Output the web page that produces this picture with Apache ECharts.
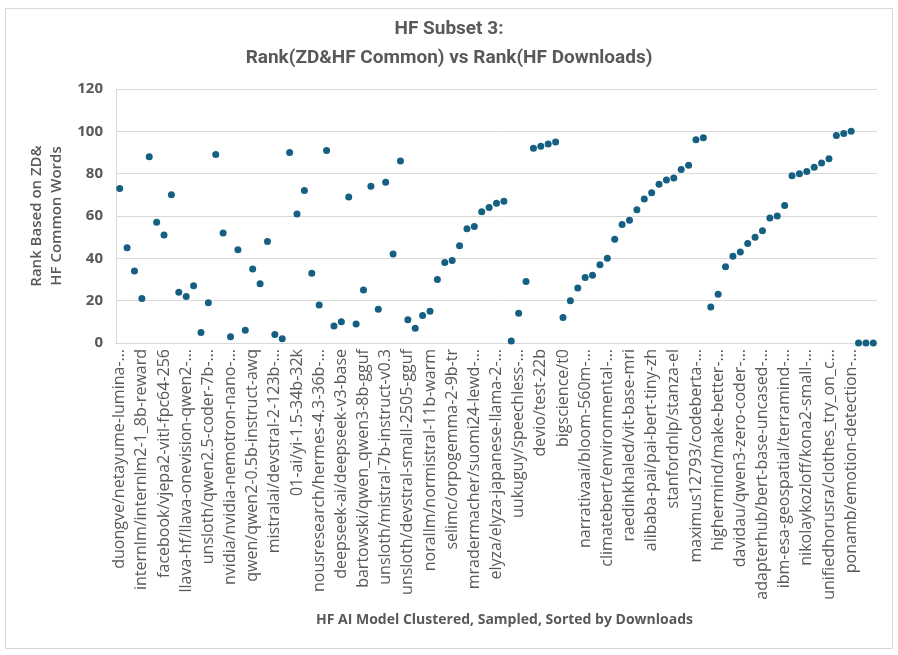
<!DOCTYPE html>
<html>
<head>
<meta charset="utf-8">
<title>HF Subset 3</title>
<script src="https://cdn.jsdelivr.net/npm/echarts@6/dist/echarts.min.js"></script>
<style>
  html, body { margin: 0; padding: 0; background: #fff; }
  #main { width: 898px; height: 655px; }
</style>
</head>
<body>
<div id="main"></div>
<script>
// labels shown on the x axis (every third model)
var modelLabels = [
    'duongve/netayume-lumina-…', 'internlm/internlm2-1_8b-reward', 'facebook/vjepa2-vitl-fpc64-256',
    'llava-hf/llava-onevision-qwen2-…', 'unsloth/qwen2.5-coder-7b-…', 'nvidia/nvidia-nemotron-nano-…',
    'qwen/qwen2-0.5b-instruct-awq', 'mistralai/devstral-2-123b-…', '01-ai/yi-1.5-34b-32k',
    'nousresearch/hermes-4.3-36b-…', 'deepseek-ai/deepseek-v3-base', 'bartowski/qwen_qwen3-8b-gguf',
    'unsloth/mistral-7b-instruct-v0.3', 'unsloth/devstral-small-2505-gguf', 'norallm/normistral-11b-warm',
    'selimc/orpogemma-2-9b-tr', 'mradermacher/suomi24-lewd-…', 'elyza/elyza-japanese-llama-2-…',
    'uukuguy/speechless-…', 'devio/test-22b', 'bigscience/t0',
    'narrativaai/bloom-560m-…', 'climatebert/environmental-…', 'raedinkhaled/vit-base-mri',
    'alibaba-pai/pai-bert-tiny-zh', 'stanfordnlp/stanza-el', 'maximus12793/codeberta-…',
    'highermind/make-better-…', 'davidau/qwen3-zero-coder-…', 'adapterhub/bert-base-uncased-…',
    'ibm-esa-geospatial/terramind-…', 'nikolaykozloff/kona2-small-…', 'unifiedhorusra/clothes_try_on_c…',
    'ponamb/emotion-detection-…'
];

// rank based on ZD & HF common words, in download order
var commonRank = [
    73, 45, 34, 21, 88, 57, 51, 70, 24, 22, 27, 5, 19, 89, 52, 3, 44, 6, 35, 28, 48, 4, 2, 90, 61, 72,
    33, 18, 91, 8, 10, 69, 9, 25, 74, 16, 76, 42, 86, 11, 7, 13, 15, 30, 38, 39, 46, 54, 55, 62, 64, 66, 67,
    1, 14, 29, 92, 93, 94, 95, 12, 20, 26, 31, 32, 37, 40, 49, 56, 58, 63, 68, 71, 75, 77, 78, 82, 84,
    96, 97, 17, 23, 36, 41, 43, 47, 50, 53, 59, 60, 65, 79, 80, 81, 83, 85, 87, 98, 99, 100, 0, 0, 0
];

var yTicks = [0, 20, 40, 60, 80, 100, 120];

// category list: a named model every third slot, the rest unlabeled
var categories = [];
for (var i = 0; i < commonRank.length; i++) {
    var k = i / 3;
    categories.push(i % 3 === 0 && k < modelLabels.length ? modelLabels[k] : 'model ' + (i + 1));
}

var gray = '#595959';
var font = "'Open Sans', 'Noto Sans', sans-serif";

var option = {
    backgroundColor: '#fff',
    title: {
        text: 'HF Subset 3:\nRank(ZD&HF Common) vs Rank(HF Downloads)',
        left: 'center',
        top: 10,
        textStyle: {
            fontFamily: 'Roboto, sans-serif',
            fontSize: 19,
            fontWeight: 'bold',
            color: gray,
            lineHeight: 29
        }
    },
    graphic: [{
        type: 'rect',
        shape: { x: 5.5, y: 8.5, width: 887, height: 640 },
        style: { fill: 'none', stroke: '#d9d9d9', lineWidth: 1 }
    }],
    grid: {
        left: 116,
        right: 21,
        top: 89,
        bottom: 312
    },
    xAxis: {
        type: 'category',
        data: categories,
        boundaryGap: true,
        name: 'HF AI Model Clustered, Sampled, Sorted by Downloads',
        nameLocation: 'middle',
        nameGap: 270,
        nameTextStyle: {
            fontFamily: font,
            fontSize: 14,
            fontWeight: 'bold',
            color: gray,
            padding: [0, 0, 0, 16]
        },
        axisLine: { lineStyle: { color: '#d9d9d9' } },
        axisTick: { show: false },
        axisLabel: {
            interval: function (index) {
                return index % 3 === 0 && index / 3 < modelLabels.length;
            },
            rotate: 90,
            margin: 6,
            fontFamily: font,
            fontSize: 16,
            color: gray
        }
    },
    yAxis: {
        type: 'value',
        min: yTicks[0],
        max: yTicks[yTicks.length - 1],
        interval: 20,
        name: 'Rank Based on ZD&\nHF Common Words',
        nameLocation: 'middle',
        nameGap: 47,
        nameTextStyle: {
            fontFamily: font,
            fontSize: 15,
            fontWeight: 600,
            color: gray,
            lineHeight: 20
        },
        axisLine: { show: true, lineStyle: { color: '#d9d9d9' } },
        axisTick: { show: false },
        axisLabel: {
            margin: 13,
            fontFamily: font,
            fontSize: 15,
            fontWeight: 'bold',
            color: gray
        },
        splitLine: { lineStyle: { color: '#d9d9d9', width: 1 } }
    },
    series: [{
        name: 'Rank',
        type: 'scatter',
        data: commonRank,
        symbol: 'circle',
        symbolSize: 7,
        itemStyle: { color: '#156082', opacity: 1 }
    }]
};

var myChart = echarts.init(document.getElementById('main'));
myChart.setOption(option);
</script>
</body>
</html>
